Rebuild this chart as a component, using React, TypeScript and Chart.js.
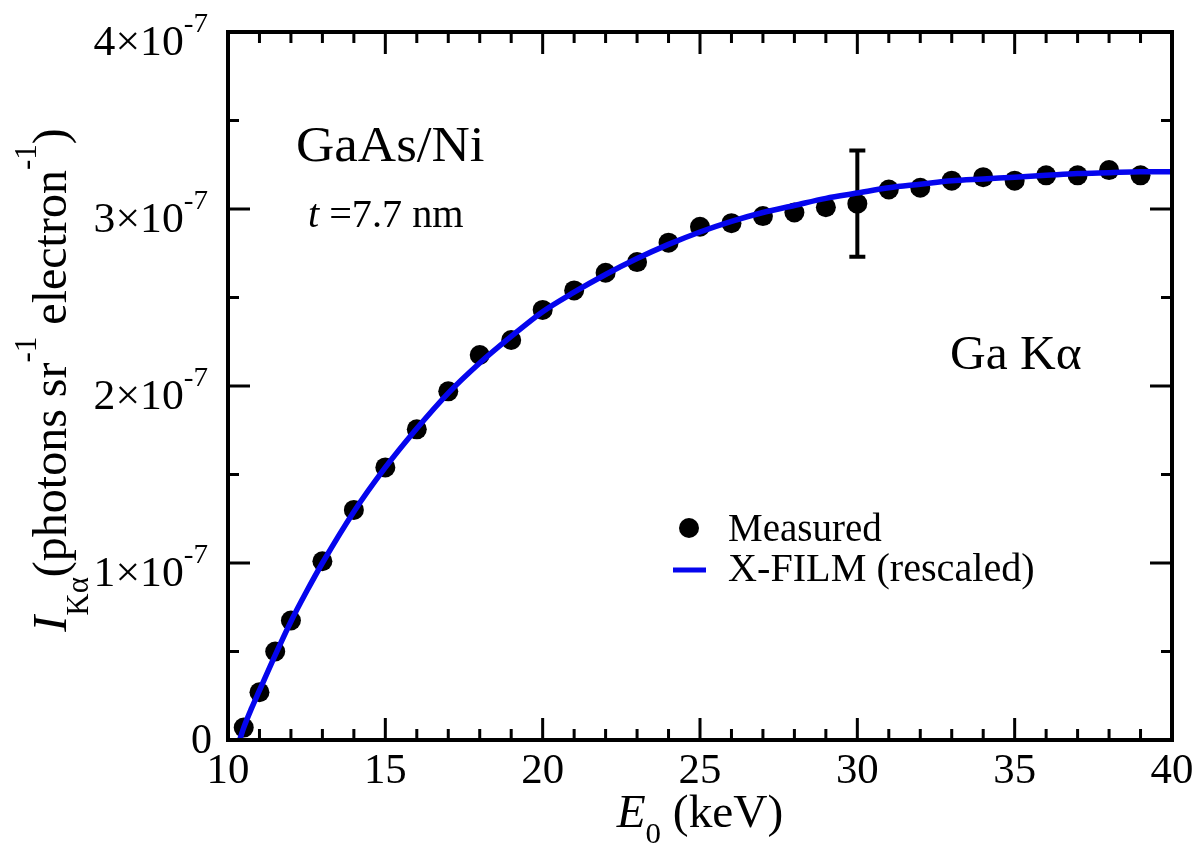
import { useEffect, useRef } from "react";
import { Chart, registerables } from "chart.js";

Chart.register(...registerables);

// Measured Ga Kα intensity (units of 1e-7 photons sr^-1 electron^-1)
const measuredEnergy = [10.5, 11, 11.5, 12, 13, 14, 15, 16, 17, 18, 19, 20, 21, 22, 23, 24, 25, 26, 27, 28, 29, 30, 31, 32, 33, 34, 35, 36, 37, 38, 39];
const measuredIntensity = [0.07, 0.27, 0.5, 0.675, 1.01, 1.3, 1.54, 1.755, 1.97, 2.175, 2.26, 2.43, 2.54, 2.64, 2.7, 2.81, 2.9, 2.92, 2.96, 2.98, 3.01, 3.03, 3.11, 3.12, 3.16, 3.18, 3.16, 3.19, 3.19, 3.22, 3.19];

// X-FILM calculation, rescaled
const fitEnergy = [10.37, 10.5, 10.75, 11, 11.5, 12, 12.5, 13, 14, 15, 16, 17, 18, 19, 20, 21, 22, 23, 24, 25, 26, 27, 28, 29, 30, 31, 32, 33, 34, 35, 36, 37, 38, 39, 40];
const fitIntensity = [0, 0.07, 0.18, 0.28, 0.48, 0.67, 0.84, 1.0, 1.29, 1.54, 1.76, 1.96, 2.13, 2.28, 2.42, 2.53, 2.63, 2.72, 2.8, 2.87, 2.93, 2.98, 3.02, 3.06, 3.09, 3.12, 3.14, 3.16, 3.17, 3.18, 3.19, 3.2, 3.205, 3.21, 3.21];

// Representative uncertainty at 30 keV
const errorEnergy = 30;
const errorLow = 2.73;
const errorHigh = 3.33;

const SCALE = 1e-7;
const xMajorTicks = [10, 15, 20, 25, 30, 35, 40];
const xTickLabels = ["10", "15", "20", "25", "30", "35", "40"];
const yMajorTicks = [0, 1, 2, 3, 4];
const yTickMantissa = ["0", "1", "2", "3", "4"];

const FONT = "'Liberation Serif', 'Times New Roman', serif";
const BLUE = "#0505ee";

type Seg = { t: string; size: number; italic?: boolean; dy?: number };

function segFont(s: Seg) {
  return `${s.italic ? "italic " : ""}${s.size}px ${FONT}`;
}

// Draws a run of differently sized/offset text pieces along one baseline.
function drawRich(
  ctx: CanvasRenderingContext2D,
  segs: Seg[],
  x: number,
  y: number,
  align: "left" | "center" | "right",
  stretch = 1,
  rotate = 0
) {
  ctx.save();
  ctx.translate(x, y);
  if (rotate) ctx.rotate(rotate);
  ctx.scale(stretch, 1);
  ctx.textBaseline = "alphabetic";
  ctx.textAlign = "left";
  let total = 0;
  const widths = segs.map((s) => {
    ctx.font = segFont(s);
    const w = ctx.measureText(s.t).width;
    total += w;
    return w;
  });
  let cx = align === "left" ? 0 : align === "center" ? -total / 2 : -total;
  segs.forEach((s, i) => {
    ctx.font = segFont(s);
    ctx.fillText(s.t, cx, s.dy || 0);
    cx += widths[i];
  });
  ctx.restore();
}

const framePlugin = {
  id: "frameAndText",
  beforeDatasetsDraw(chart: any) {
    const { ctx, scales } = chart;
    const xs = scales.x;
    const ys = scales.y;
    // error bar
    const px = xs.getPixelForValue(errorEnergy);
    const y1 = ys.getPixelForValue(errorLow * SCALE);
    const y2 = ys.getPixelForValue(errorHigh * SCALE);
    ctx.save();
    ctx.strokeStyle = "#000";
    ctx.lineWidth = 4;
    ctx.beginPath();
    ctx.moveTo(px, y1);
    ctx.lineTo(px, y2);
    ctx.moveTo(px - 8, y1);
    ctx.lineTo(px + 8, y1);
    ctx.moveTo(px - 8, y2);
    ctx.lineTo(px + 8, y2);
    ctx.stroke();
    ctx.restore();
  },
  afterDatasetsDraw(chart: any) {
    const { ctx, chartArea: a, scales } = chart;
    const xs = scales.x;
    const ys = scales.y;
    ctx.save();
    ctx.fillStyle = "#000";
    ctx.strokeStyle = "#000";
    ctx.lineCap = "butt";

    // ticks on all four sides, pointing inwards
    ctx.lineWidth = 3;
    ctx.beginPath();
    for (let v = 10; v <= 40; v += 1) {
      const p = xs.getPixelForValue(v);
      const len = v % 5 === 0 ? 22 : 11;
      ctx.moveTo(p, a.bottom);
      ctx.lineTo(p, a.bottom - len);
      ctx.moveTo(p, a.top);
      ctx.lineTo(p, a.top + len);
    }
    for (let v = 0; v <= 4; v += 0.5) {
      const p = ys.getPixelForValue(v * SCALE);
      const len = v % 1 === 0 ? 22 : 11;
      ctx.moveTo(a.left, p);
      ctx.lineTo(a.left + len, p);
      ctx.moveTo(a.right, p);
      ctx.lineTo(a.right - len, p);
    }
    ctx.stroke();

    // frame
    ctx.lineWidth = 4;
    ctx.strokeRect(a.left, a.top, a.right - a.left, a.bottom - a.top);

    // x tick labels
    xMajorTicks.forEach((v, i) => {
      drawRich(ctx, [{ t: xTickLabels[i], size: 42 }], xs.getPixelForValue(v), a.bottom + 43, "center", 1.02);
    });

    // y tick labels
    yMajorTicks.forEach((v, i) => {
      const p = ys.getPixelForValue(v * SCALE);
      if (v === 0) {
        drawRich(ctx, [{ t: yTickMantissa[i], size: 42 }], 212, p + 13, "right", 1.0);
      } else {
        drawRich(
          ctx,
          [
            { t: `${yTickMantissa[i]}×10`, size: 42 },
            { t: "-7", size: 28, dy: -23 },
          ],
          208,
          p + 23,
          "right",
          1.04
        );
      }
    });

    // axis titles
    drawRich(
      ctx,
      [
        { t: "E", size: 46, italic: true },
        { t: "0", size: 30, dy: 16 },
        { t: " (keV)", size: 46 },
      ],
      (a.left + a.right) / 2,
      827,
      "center",
      1.03
    );
    drawRich(
      ctx,
      [
        { t: "I", size: 48, italic: true },
        { t: "Kα", size: 31, dy: 22 },
        { t: "(photons sr", size: 48 },
        { t: "-1", size: 31, dy: -30 },
        { t: " electron", size: 48 },
        { t: "-1", size: 31, dy: -30 },
        { t: ")", size: 48 },
      ],
      66,
      380,
      "center",
      1.0,
      -Math.PI / 2
    );

    // annotations
    drawRich(ctx, [{ t: "GaAs/Ni", size: 51 }], 296, 161, "left", 1.04);
    drawRich(
      ctx,
      [
        { t: "t", size: 41, italic: true },
        { t: " =7.7 nm", size: 41 },
      ],
      308,
      227,
      "left",
      0.98
    );
    drawRich(ctx, [{ t: "Ga Kα", size: 48 }], 950, 369, "left", 1.03);

    // legend
    ctx.beginPath();
    ctx.arc(689, 528, 10, 0, Math.PI * 2);
    ctx.fill();
    drawRich(ctx, [{ t: "Measured", size: 39 }], 728, 541, "left", 1.0);
    ctx.strokeStyle = BLUE;
    ctx.lineWidth = 5;
    ctx.beginPath();
    ctx.moveTo(673, 570);
    ctx.lineTo(706, 570);
    ctx.stroke();
    drawRich(ctx, [{ t: "X-FILM (rescaled)", size: 39 }], 728, 581, "left", 1.03);

    ctx.restore();
  },
};

export default function App() {
  const ref = useRef<HTMLCanvasElement | null>(null);

  useEffect(() => {
    document.body.style.margin = "0";
    const canvas = ref.current;
    if (!canvas) return;
    const chart = new Chart(canvas, {
      type: "scatter",
      data: {
        datasets: [
          {
            label: "X-FILM (rescaled)",
            data: fitEnergy.map((e, i) => ({ x: e, y: fitIntensity[i] * SCALE })),
            showLine: true,
            borderColor: BLUE,
            borderWidth: 5.5,
            pointRadius: 0,
            cubicInterpolationMode: "monotone",
            fill: false,
          },
          {
            label: "Measured",
            data: measuredEnergy.map((e, i) => ({ x: e, y: measuredIntensity[i] * SCALE })),
            backgroundColor: "#000",
            borderWidth: 0,
            pointRadius: 10,
            pointHoverRadius: 10,
          },
        ],
      },
      options: {
        responsive: false,
        animation: false,
        layout: { padding: { left: 228, right: 27, top: 32, bottom: 105 } },
        plugins: { legend: { display: false }, tooltip: { enabled: false } },
        scales: {
          x: { type: "linear", min: 10, max: 40, display: false },
          y: { type: "linear", min: 0, max: 4 * SCALE, display: false },
        },
      },
      plugins: [framePlugin],
    });
    return () => chart.destroy();
  }, []);

  return (
    <div style={{ position: "absolute", left: 0, top: 0, width: 1199, height: 845, background: "#fff" }}>
      <canvas ref={ref} width={1199} height={845} />
    </div>
  );
}
